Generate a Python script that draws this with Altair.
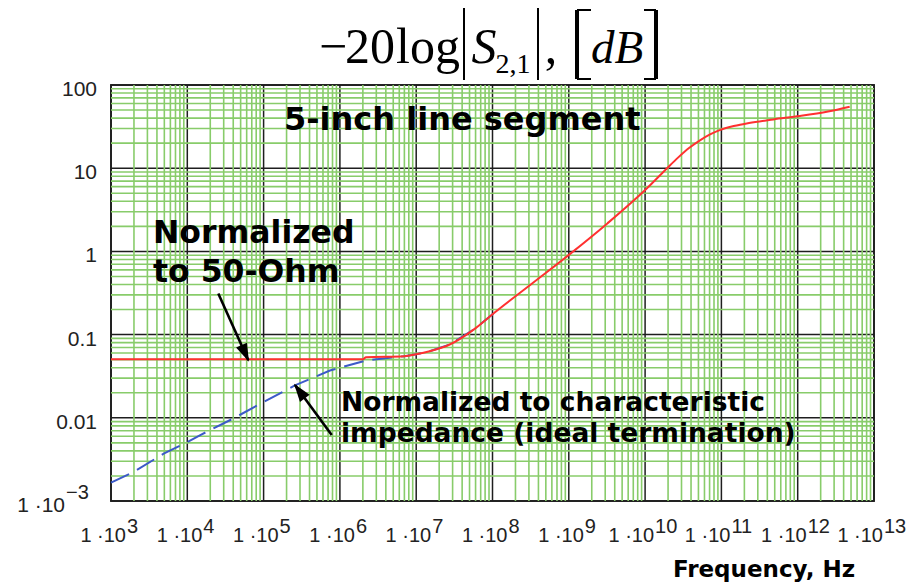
import altair as alt
import pandas as pd

# Decade exponents spanned by the two log axes
freq_exponents = list(range(3, 14))      # 1e3 .. 1e13 Hz
loss_exponents = list(range(-3, 3))      # 1e-3 .. 1e2 dB

# -20 log|S21| normalized to 50 Ohm (red)
freq_50 = [1e3, 1e4, 1e5, 1e6, 2.0e6, 2.2e6, 7.0e6, 1.0e7, 1.5e7, 2.75e7, 5.9e7,
           1.02e8, 3.4e8, 1.05e9, 3.2e9, 1.05e10, 1.9e10, 2.7e10, 3.8e10, 5.3e10,
           7.1e10, 9.5e10, 1.45e11, 2.3e11, 4.8e11, 1.07e12, 2.5e12, 4.8e12]
loss_50 = [0.0505, 0.0505, 0.0505, 0.0505, 0.0505, 0.0535, 0.055, 0.058, 0.063,
           0.076, 0.118, 0.178, 0.42, 0.94, 2.17, 5.7, 9.8, 13.4, 17.6, 21.8,
           25.5, 28.7, 32.1, 35.0, 38.6, 42.4, 48.0, 54.8]

# -20 log|S21| normalized to the characteristic impedance (blue, dashed)
freq_z0 = [1e3, 1.95e3, 4.9e3, 1e4, 1.48e4, 4e4, 1e5, 2.57e5, 7.4e5, 2.24e6,
           7.0e6, 1.0e7, 1.5e7, 2.75e7, 5.9e7, 1.02e8]
loss_z0 = [0.00166, 0.00222, 0.0037, 0.0051, 0.0062, 0.0098, 0.0155, 0.0245,
           0.037, 0.049, 0.055, 0.058, 0.063, 0.076, 0.118, 0.178]

# Plain y tick labels (the 1e-3 one carries an exponent)
y_tick_values = [100, 10, 1, 0.1, 0.01]
y_tick_labels = ["100", "10", "1", "0.1", "0.01"]

# Callout arrows: tail (f0, v0) -> tip (f1, v1)
arrow_50 = {"f0": 2.548e4, "v0": 0.3126, "f1": 6.3e4, "v1": 0.0492}
arrow_z0 = {"f0": 7.81e5, "v0": 0.00621, "f1": 2.578e5, "v1": 0.0248}

W, H = 763, 416
XS = alt.Scale(type="log", domain=[1e3, 1e13], nice=False)
YS = alt.Scale(type="log", domain=[1e-3, 1e2], nice=False)

GREEN = "#88cc6a"
LABEL_FONT = "Liberation Sans"
NOTE_FONT = "DejaVu Sans"
SERIF = "Liberation Serif"


def xq(field):
    return alt.X(f"{field}:Q", scale=XS, axis=None)


def yq(field):
    return alt.Y(f"{field}:Q", scale=YS, axis=None)


def note(text, x, y, size, font=NOTE_FONT, weight="bold", style="normal",
         align="left", color="black"):
    return alt.Chart(pd.DataFrame({"t": [text]})).mark_text(
        align=align, baseline="alphabetic", font=font, fontSize=size,
        fontWeight=weight, fontStyle=style, color=color,
    ).encode(x=alt.value(x), y=alt.value(y), text="t:N")


def stroke(x1, y1, x2, y2, width):
    return alt.Chart(pd.DataFrame({"t": [0]})).mark_rule(
        color="black", strokeWidth=width
    ).encode(x=alt.value(x1), y=alt.value(y1), x2=alt.value(x2), y2=alt.value(y2))


def bracket(stem_x, arm_x, top=-75, bottom=-6):
    return [stroke(stem_x, top, stem_x, bottom, 4),
            stroke(stem_x, top, arm_x, top, 2),
            stroke(stem_x, bottom, arm_x, bottom, 2)]


# Grid lines
major_x = pd.DataFrame({"f": [10.0 ** e for e in freq_exponents]})
minor_x = pd.DataFrame({"f": [k * 10.0 ** e for e in freq_exponents[:-1] for k in range(2, 10)]})
major_y = pd.DataFrame({"v": [10.0 ** e for e in loss_exponents]})
minor_y = pd.DataFrame({"v": [k * 10.0 ** e for e in loss_exponents[:-1] for k in range(2, 10)]})

grid_major_v = alt.Chart(major_x).mark_rule(color="#1e1e1e", strokeWidth=1.5).encode(
    x=xq("f"), y=alt.value(0), y2=alt.value(H))
grid_major_h = alt.Chart(major_y).mark_rule(color="#1e1e1e", strokeWidth=1.5).encode(
    y=yq("v"), x=alt.value(0), x2=alt.value(W))
grid_minor_v = alt.Chart(minor_x).mark_rule(color=GREEN, strokeWidth=1.6).encode(
    x=xq("f"), y=alt.value(0), y2=alt.value(H))
grid_minor_h = alt.Chart(minor_y).mark_rule(color=GREEN, strokeWidth=1.6).encode(
    y=yq("v"), x=alt.value(0), x2=alt.value(W))

# Curves
df_50 = pd.DataFrame({"f": freq_50, "v": loss_50})
df_z0 = pd.DataFrame({"f": freq_z0, "v": loss_z0})
line_z0 = alt.Chart(df_z0).mark_line(color="#3c5ac8", strokeWidth=2, strokeDash=[20, 9]).encode(
    x=xq("f"), y=yq("v"))
line_50 = alt.Chart(df_50).mark_line(color="#ff3030", strokeWidth=2, interpolate="monotone").encode(
    x=xq("f"), y=yq("v"))

# Arrows: shaft plus a filled head whose tip sits on (f1, v1)
HEAD = "M0,-0.1L-0.36,1L0.36,1Z"


def arrow(spec, angle):
    d = pd.DataFrame([spec])
    shaft = alt.Chart(d).mark_rule(color="black", strokeWidth=2.6).encode(
        x=xq("f0"), x2="f1:Q", y=yq("v0"), y2="v1:Q")
    head = alt.Chart(d).mark_point(shape=HEAD, filled=True, size=1100, angle=angle,
                                   color="black", opacity=1).encode(
        x=xq("f1"), y=yq("v1"))
    return [shaft, head]


# Tick labels
x_lab = pd.DataFrame({"f": [10.0 ** e for e in freq_exponents],
                      "e": [str(e) for e in freq_exponents]})
x_lab_1 = x_lab[x_lab["e"].str.len() == 1]
x_lab_2 = x_lab[x_lab["e"].str.len() == 2]
lab_style = dict(font=LABEL_FONT, fontSize=20, color="#222", baseline="alphabetic")


def x_labels(df, shift):
    base = alt.Chart(df).mark_text(text="1 ·10", align="right", dx=shift, **lab_style).encode(
        x=xq("f"), y=alt.value(457))
    sup = alt.Chart(df).mark_text(align="left", dx=shift + 1, **lab_style).encode(
        x=xq("f"), y=alt.value(448), text="e:N")
    return [base, sup]


y_lab = pd.DataFrame({"v": y_tick_values, "t": y_tick_labels})
y_labels = alt.Chart(y_lab).mark_text(align="right", dy=11, font=LABEL_FONT, fontSize=21,
                                      color="#222", baseline="alphabetic").encode(
    y=yq("v"), x=alt.value(-14), text="t:N")
y_min = pd.DataFrame({"v": [1e-3], "e": ["\u22123"]})
y_min_base = alt.Chart(y_min).mark_text(text="1 ·10", align="right", dy=11, font=LABEL_FONT,
                                        fontSize=21, color="#222", baseline="alphabetic").encode(
    y=yq("v"), x=alt.value(-46))
y_min_sup = alt.Chart(y_min).mark_text(align="left", dy=-2, font=LABEL_FONT, fontSize=20,
                                       color="#222", baseline="alphabetic").encode(
    y=yq("v"), x=alt.value(-45), text="e:N")

# Quantity heading: -20 log|S_2,1|, [dB]
heading = [
    note("\u2212", 222, -22, 50, font=SERIF, weight="normal", align="center"),
    note("20", 259, -22, 50, font=SERIF, weight="normal", align="center"),
    note("log", 317, -22, 50, font=SERIF, weight="normal", align="center"),
    stroke(353, -77, 353, -5, 2),
    note("S", 373, -22, 50, font=SERIF, weight="normal", style="italic", align="center"),
    note("2,1", 402, -12, 28, font=SERIF, weight="normal", align="center"),
    stroke(427, -77, 427, -5, 2),
    note(",", 440, -22, 50, font=SERIF, weight="normal", align="center"),
    note("dB", 506, -22, 47, font=SERIF, weight="normal", style="italic", align="center"),
] + bracket(466, 480) + bracket(545, 533)

notes = [
    note("5-inch line segment", 173, 45, 32),
    note("Normalized", 42, 158, 31.5),
    note("to 50-Ohm", 42, 197, 31.5),
    note("Normalized to characteristic", 230, 326, 26.5),
    note("impedance (ideal termination)", 230, 357, 26.5),
    note("Frequency, Hz", 653, 492, 23, align="center"),
]

layers = ([grid_major_v, grid_major_h, grid_minor_v, grid_minor_h, line_z0, line_50]
          + arrow(arrow_50, 155.8) + arrow(arrow_z0, 323.7)
          + x_labels(x_lab_1, 15) + x_labels(x_lab_2, 9)
          + [y_labels, y_min_base, y_min_sup] + heading + notes)

chart = alt.layer(*layers).properties(
    width=W, height=H,
    padding={"left": 111, "top": 85, "right": 34, "bottom": 84},
    autosize=alt.AutoSizeParams(type="none"),
    background="white",
).configure_view(stroke="#333", strokeWidth=2)

chart.save("out.html", embed_options={"renderer": "svg", "actions": False})
